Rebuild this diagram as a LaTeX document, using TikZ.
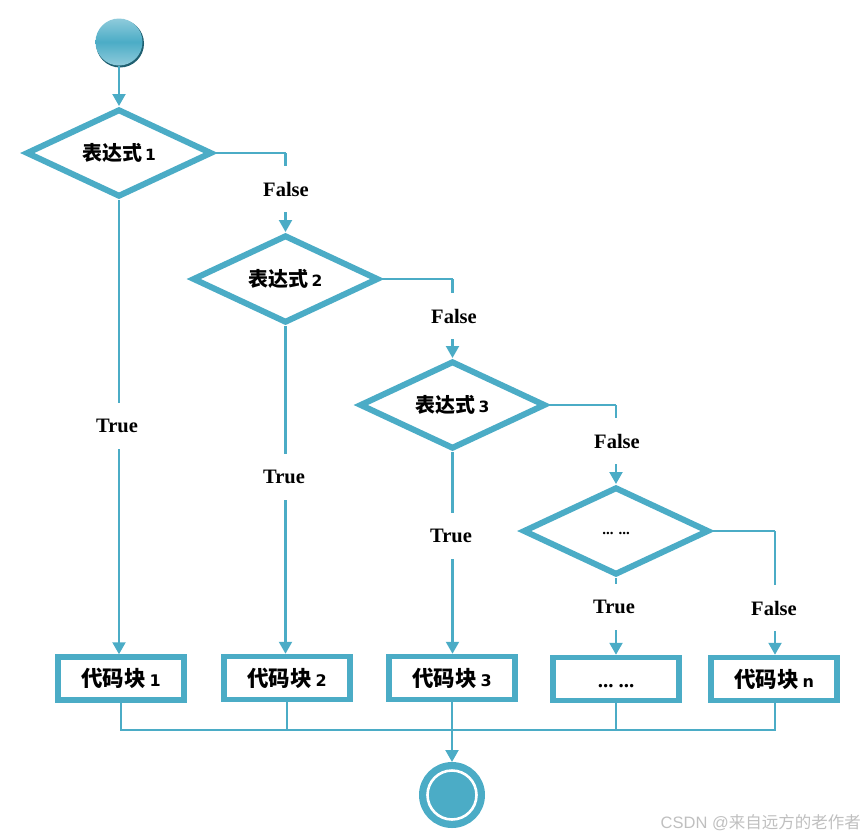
\documentclass[tikz,border=0pt]{standalone}
\usepackage{fontspec}
\setmainfont{Liberation Serif}
\newfontfamily\cjkf{Noto Sans CJK SC}
\newfontfamily\numf{DejaVu Sans}
\usetikzlibrary{arrows.meta,shapes.geometric,calc}
\definecolor{aqua}{HTML}{4BACC6}
\definecolor{aqualight}{HTML}{8FCBDB}
\definecolor{aquadark}{HTML}{1F5F70}
\newcommand{\zh}[2]{{\cjkf\bfseries\fontsize{20}{22}\selectfont #1}\hspace{3pt}{\numf\bfseries\fontsize{15.5}{22}\selectfont #2}}
\newcommand{\zb}[2]{\raisebox{-1.5pt}{{\cjkf\bfseries\fontsize{21.5}{24}\selectfont #1}\hspace{4pt}{\numf\bfseries\fontsize{16}{24}\selectfont #2}}}
\newcommand{\dotsd}{\rule{0pt}{8pt}{\bfseries\fontsize{15}{16}\selectfont ...\hspace{5pt}...}}
\newcommand{\dotsb}{\rule{0pt}{17pt}{\bfseries\fontsize{21}{22}\selectfont ...\hspace{5pt}...}}
\tikzset{
 decision/.style={diamond,draw=aqua,line width=6pt,fill=white,minimum width=186pt,minimum height=88pt,inner sep=0pt,aspect=2.1},
 block/.style={rectangle,draw=aqua,line width=5.5pt,fill=white,minimum width=126pt,minimum height=43pt,inner sep=0pt},
 flow/.style={draw=aqua,line width=2.2pt,-{Triangle[length=12pt,width=13pt,fill=aqua]}},
 link/.style={draw=aqua,line width=2.2pt},
 lab/.style={font=\bfseries\fontsize{20.5}{24}\selectfont,fill=white,inner xsep=2pt,inner ysep=0pt,minimum height=46pt,text=black},
}
\begin{document}
\begin{tikzpicture}[x=1pt,y=-1pt]
\useasboundingbox (0,0) rectangle (865,839);
% start
\fill[aquadark] (120,43.5) circle (24pt);
\node[circle,minimum size=47pt,inner sep=0pt,top color=aqualight,bottom color=aqualight,middle color=aqua] (start) at (119,42) {};
% decisions
\node[decision] (d1) at (119,153) {\zh{表达式}{1}};
\node[decision] (d2) at (285.5,279) {\zh{表达式}{2}};
\node[decision] (d3) at (452.5,405) {\zh{表达式}{3}};
\node[decision] (d4) at (616,531) {\dotsd};
% blocks
\node[block] (b1) at (121,678.5) {\zb{代码块}{1}};
\node[block] (b2) at (287,678) {\zb{代码块}{2}};
\node[block] (b3) at (452,678) {\zb{代码块}{3}};
\node[block] (b4) at (616,679) {\dotsb};
\node[block] (b5) at (774,679) {\zb{代码块}{n}};
% end
\node[circle,draw=aqua,line width=7pt,fill=aqua,minimum size=59pt,inner sep=0pt] (stop) at (452,795) {};
\node[circle,draw=white,line width=2.6pt,minimum size=49pt,inner sep=0pt] (stopring) at (452,795) {};
% coordinates
\coordinate (c1) at (285.5,153);
\coordinate (c2) at (452.5,279);
\coordinate (c3) at (616,405);
\coordinate (c4) at (775,531);
\coordinate (m1) at (121,730);
\coordinate (m5) at (775,730);
% flows
\draw[flow] (start) -- (d1);
\draw[link] (d1.east) -- (c1);
\draw[flow] (c1) -- (d2.north);
\draw[link] (d2.east) -- (c2);
\draw[flow] (c2) -- (d3.north);
\draw[link] (d3.east) -- (c3);
\draw[flow] (c3) -- (d4.north);
\draw[link] (d4.east) -- (c4);
\draw[flow] (c4) -- (c4 |- b5.north);
\draw[flow] (d1.south) -- (d1.south |- b1.north);
\draw[flow] (d2.south) -- (d2.south |- b2.north);
\draw[flow] (d3.south) -- (d3.south |- b3.north);
\draw[flow] (d4.south) -- (b4.north);
\draw[link] (b1.south) -- (m1) -- (m5) -- (m5 |- b5.south);
\draw[link] (b2.south) -- (b2.south |- m1);
\draw[link] (b4.south) -- (b4.south |- m1);
\draw[flow] (b3.south) -- (stop.north);
% labels
\node[lab] (t1) at (117,426) {True};
\node[lab] (t2) at (284,477) {True};
\node[lab] (t3) at (451,536) {True};
\node[lab] (t4) at (614,607) {True};
\node[lab] (f1) at (286,189) {False};
\node[lab] (f2) at (454,316) {False};
\node[lab] (f3) at (617,441) {False};
\node[lab] (f4) at (774,608) {False};
% watermark
\node[anchor=east,inner sep=0pt,text=black!25,font=\fontsize{16.5}{18}\selectfont] (wm) at (861,823) {\fontspec{Liberation Sans}CSDN @{\cjkf 来自远方的老作者}};
\end{tikzpicture}
\end{document}
